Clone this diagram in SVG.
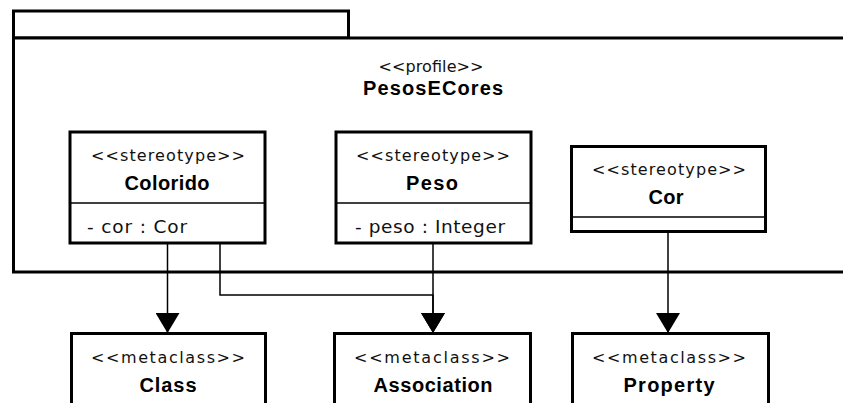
<svg xmlns="http://www.w3.org/2000/svg" width="843" height="403" viewBox="0 0 843 403">
<defs>
<style>
.box{fill:#fff;stroke:#000;stroke-width:3}
.div{stroke:#000;stroke-width:1.5}
.pkg{fill:#fff;stroke:#000;stroke-width:3}
.con{fill:none;stroke:#000;stroke-width:1.5}
.st{font-family:"DejaVu Sans","Liberation Sans",sans-serif;font-size:16px;fill:#111;text-anchor:middle}
.nm{font-family:"Liberation Sans",Arial,sans-serif;font-size:20px;font-weight:bold;fill:#000;text-anchor:middle}
.at{font-family:"DejaVu Sans","Liberation Sans",sans-serif;font-size:18.5px;fill:#111}
</style>
<marker id="arr" markerUnits="userSpaceOnUse" markerWidth="20" markerHeight="24" viewBox="0 0 20 24" refX="20" refY="12" orient="auto">
<path d="M0,0 L20,12 L0,24 Z" fill="#000"/>
</marker>
</defs>
<rect width="843" height="403" fill="#fff"/>
<g id="package">
<rect class="pkg" x="13.5" y="11" width="335" height="27"/>
<rect class="pkg" x="13.5" y="38" width="840" height="234"/>
<text class="st" x="431" y="72" textLength="105" lengthAdjust="spacing">&lt;&lt;profile&gt;&gt;</text>
<text class="nm" x="433" y="95" textLength="140" lengthAdjust="spacing">PesosECores</text>
</g>
<g id="colorido">
<rect class="box" x="70" y="132" width="195" height="111"/>
<line class="div" x1="70" y1="203" x2="265" y2="203"/>
<text class="st" x="168" y="161" textLength="154" lengthAdjust="spacing">&lt;&lt;stereotype&gt;&gt;</text>
<text class="nm" x="167" y="190" textLength="85" lengthAdjust="spacing">Colorido</text>
<text class="at" x="87" y="233" textLength="100" lengthAdjust="spacing">- cor : Cor</text>
</g>
<g id="peso">
<rect class="box" x="336" y="132" width="195" height="111"/>
<line class="div" x1="336" y1="203" x2="531" y2="203"/>
<text class="st" x="433" y="161" textLength="154" lengthAdjust="spacing">&lt;&lt;stereotype&gt;&gt;</text>
<text class="nm" x="432" y="190" textLength="52" lengthAdjust="spacing">Peso</text>
<text class="at" x="355" y="233" textLength="150" lengthAdjust="spacing">- peso : Integer</text>
</g>
<g id="cor">
<rect class="box" x="571.5" y="146.5" width="194" height="85"/>
<line class="div" x1="571.5" y1="217" x2="765.5" y2="217"/>
<text class="st" x="669" y="175" textLength="154" lengthAdjust="spacing">&lt;&lt;stereotype&gt;&gt;</text>
<text class="nm" x="666" y="204" textLength="35" lengthAdjust="spacing">Cor</text>
</g>
<g id="class">
<rect class="box" x="71.5" y="333.5" width="194" height="100"/>
<text class="st" x="168" y="363" textLength="154" lengthAdjust="spacing">&lt;&lt;metaclass&gt;&gt;</text>
<text class="nm" x="168" y="392" textLength="57" lengthAdjust="spacing">Class</text>
</g>
<g id="association">
<rect class="box" x="334.5" y="333.5" width="196" height="100"/>
<text class="st" x="432" y="363" textLength="156" lengthAdjust="spacing">&lt;&lt;metaclass&gt;&gt;</text>
<text class="nm" x="433" y="392" textLength="119" lengthAdjust="spacing">Association</text>
</g>
<g id="property">
<rect class="box" x="572.5" y="333.5" width="196" height="100"/>
<text class="st" x="669" y="363" textLength="154" lengthAdjust="spacing">&lt;&lt;metaclass&gt;&gt;</text>
<text class="nm" x="669" y="392" textLength="91" lengthAdjust="spacing">Property</text>
</g>
<g id="connectors">
<path class="con" d="M167.5,243 V333" marker-end="url(#arr)"/>
<path class="con" d="M220,243 V295 H433 V333" marker-end="url(#arr)"/>
<path class="con" d="M433,243 V333" marker-end="url(#arr)"/>
<path class="con" d="M668,231.5 V333" marker-end="url(#arr)"/>
</g>
</svg>
